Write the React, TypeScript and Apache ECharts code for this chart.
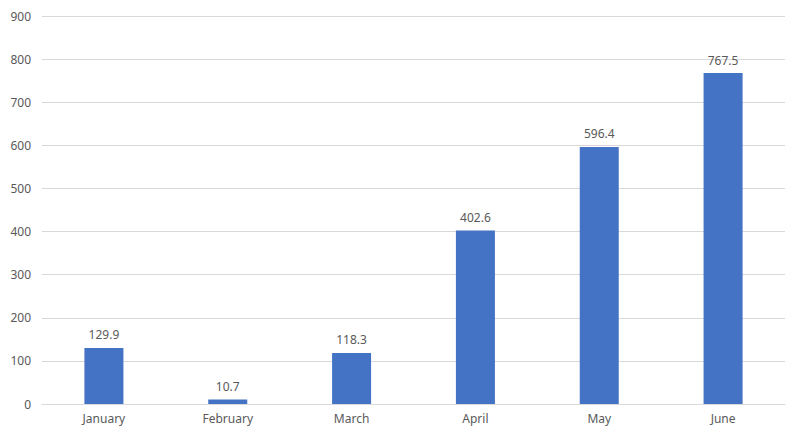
import React, { useEffect, useRef } from "react";
import * as echarts from "echarts";

const categories = ["January", "February", "March", "April", "May", "June"];
const values = [129.9, 10.7, 118.3, 402.6, 596.4, 767.5];
const yMin = 0;
const yMax = 900;
const yInterval = 100;

export default function App() {
  const ref = useRef<HTMLDivElement>(null);
  useEffect(() => {
    document.body.style.margin = "0";
    const chart = echarts.init(ref.current!, null, { renderer: "svg" });
    chart.setOption({
      animation: false,
      backgroundColor: "#ffffff",
      grid: { left: 42, right: 15, top: 16, bottom: 32 },
      xAxis: {
        type: "category",
        data: categories,
        axisLine: { show: true, lineStyle: { color: "#d9d9d9", width: 1 } },
        axisTick: { show: false },
        axisLabel: {
          color: "#595959",
          fontSize: 12,
          margin: 8,
          fontFamily: "Noto Sans, sans-serif",
        },
      },
      yAxis: {
        type: "value",
        min: yMin,
        max: yMax,
        interval: yInterval,
        axisLine: { show: false },
        axisTick: { show: false },
        splitLine: { lineStyle: { color: "#d9d9d9", width: 1 } },
        axisLabel: {
          color: "#595959",
          fontSize: 12,
          margin: 11,
          fontFamily: "Noto Sans, sans-serif",
        },
      },
      series: [
        {
          type: "bar",
          data: values,
          barWidth: "31.5%",
          itemStyle: { color: "#4472C4" },
          label: {
            show: true,
            position: "top",
            distance: 7,
            color: "#595959",
            fontSize: 12,
            fontFamily: "Noto Sans, sans-serif",
            formatter: (p: any) => p.value.toFixed(1),
          },
        },
      ],
    });
    return () => chart.dispose();
  }, []);
  return <div ref={ref} style={{ width: 800, height: 436 }} />;
}
